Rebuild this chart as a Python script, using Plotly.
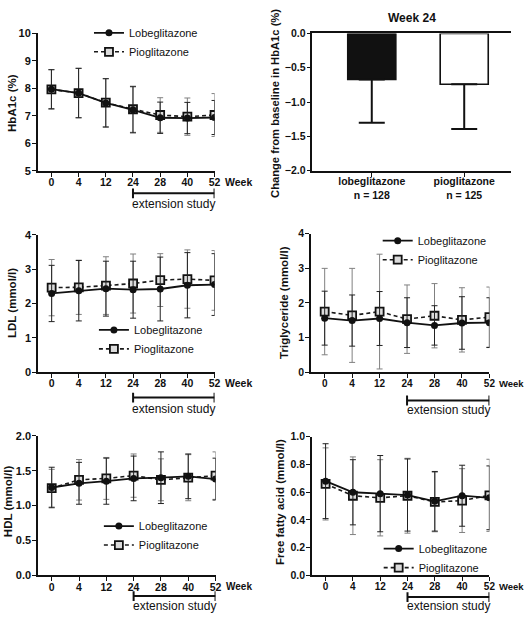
import plotly.graph_objects as go

# ---------------- data ----------------
WEEKS = ["0", "4", "12", "24", "28", "40", "52"]
EXTENSION = ("24", "52")
SERIES = ["Lobeglitazone", "Pioglitazone"]

HBA1C_LOBE = [7.97, 7.83, 7.47, 7.22, 6.93, 6.92, 6.94]
HBA1C_LOBE_SD = [0.71, 0.90, 0.88, 0.84, 0.57, 0.57, 0.62]
HBA1C_PIO = [7.96, 7.83, 7.48, 7.24, 7.03, 6.97, 7.03]
HBA1C_PIO_SD = [0.72, 0.90, 0.88, 0.84, 0.63, 0.68, 0.78]

LDL_LOBE = [2.29, 2.37, 2.43, 2.40, 2.42, 2.53, 2.55]
LDL_LOBE_SD = [0.82, 0.88, 0.80, 0.83, 0.93, 0.95, 0.90]
LDL_PIO = [2.46, 2.47, 2.52, 2.58, 2.68, 2.71, 2.67]
LDL_PIO_SD = [0.82, 0.79, 0.84, 0.86, 0.77, 0.85, 0.87]

TG_LOBE = [1.56, 1.49, 1.55, 1.43, 1.35, 1.42, 1.43]
TG_LOBE_SD = [0.78, 0.74, 0.78, 0.72, 0.57, 0.76, 0.72]
TG_PIO = [1.75, 1.64, 1.75, 1.53, 1.63, 1.51, 1.59]
TG_PIO_SD = [1.25, 1.36, 1.66, 0.99, 0.93, 0.93, 0.87]

HDL_LOBE = [1.26, 1.32, 1.35, 1.39, 1.40, 1.42, 1.38]
HDL_LOBE_SD = [0.29, 0.30, 0.33, 0.32, 0.37, 0.32, 0.30]
HDL_PIO = [1.25, 1.37, 1.39, 1.43, 1.37, 1.40, 1.43]
HDL_PIO_SD = [0.27, 0.29, 0.30, 0.31, 0.30, 0.33, 0.34]

FFA_LOBE = [0.68, 0.60, 0.59, 0.58, 0.535, 0.575, 0.56]
FFA_LOBE_SD = [0.27, 0.235, 0.275, 0.26, 0.215, 0.22, 0.23]
FFA_PIO = [0.66, 0.575, 0.56, 0.575, 0.53, 0.54, 0.578]
FFA_PIO_SD = [0.26, 0.28, 0.275, 0.27, 0.215, 0.23, 0.26]

BAR_GROUPS = ["lobeglitazone", "pioglitazone"]
BAR_N = [128, 125]
BAR_CHANGE = [-0.67, -0.74]
BAR_SD = [0.63, 0.65]

# ---------------- layout helpers ----------------
W, H = 532, 620
FONT = "Liberation Sans, Arial, sans-serif"


def px_x(v):
    return v / W


def px_y(v):
    return 1 - v / H


def ref(prefix, n):
    return prefix if n == 1 else f"{prefix}{n}"


fig = go.Figure()

PANELS = [
    dict(n=1, title="HbA1c (%)", data=(HBA1C_LOBE, HBA1C_LOBE_SD, HBA1C_PIO, HBA1C_PIO_SD),
         yr=(5, 10), dtick=1, fmt="d", xd=(38.25, 217), yd=(28, 168), leg="legend",
         lx=135, ly=37, tx=12, ty=99, br=23, bt=34, tf=10.5, wf=10.5),
    dict(n=3, title="LDL (mmol/l)", data=(LDL_LOBE, LDL_LOBE_SD, LDL_PIO, LDL_PIO_SD),
         yr=(0, 4), dtick=1, fmt="d", xd=(38.5, 217), yd=(233.3, 373.3), leg="legend2",
         lx=140, ly=340, tx=12, ty=303, br=26, bt=38, tf=10.5, wf=10.5),
    dict(n=4, title="Triglyceride (mmol/l)", data=(TG_LOBE, TG_LOBE_SD, TG_PIO, TG_PIO_SD),
         yr=(0, 4), dtick=1, fmt="d", xd=(314.5, 495), yd=(232.3, 373.3), leg="legend3",
         lx=427, ly=249, tx=287, ty=302, br=29, bt=39, tf=10, wf=9.5),
    dict(n=5, title="HDL (mmol/l)", data=(HDL_LOBE, HDL_LOBE_SD, HDL_PIO, HDL_PIO_SD),
         yr=(0, 2), dtick=0.5, fmt=".1f", xd=(38.5, 218), yd=(438.3, 580.7), leg="legend4",
         lx=145, ly=540, tx=8, ty=505, br=21, bt=31, tf=10.5, wf=10),
    dict(n=6, title="Free fatty acid (mmol/l)", data=(FFA_LOBE, FFA_LOBE_SD, FFA_PIO, FFA_PIO_SD),
         yr=(0, 1), dtick=0.2, fmt=".1f", xd=(315.5, 495), yd=(439.3, 580.7), leg="legend5",
         lx=428, ly=563, tx=283, ty=506, br=22, bt=31, tf=10, wf=9.5),
]

annotations = []
shapes = []
layout_axes = {}
legends = {}

for p in PANELS:
    n = p["n"]
    lobe, lobe_sd, pio, pio_sd = p["data"]
    xa, ya = ref("x", n), ref("y", n)
    fig.add_trace(go.Scatter(
        x=WEEKS, y=pio, name=SERIES[1], xaxis=xa, yaxis=ya, legend=p["leg"], legendrank=2,
        mode="lines+markers",
        line=dict(color="#1a1a1a", width=1.6, dash="4px,3px"),
        marker=dict(symbol="square", size=8, color="#dcdcdc", line=dict(color="#111", width=1.8)),
        error_y=dict(type="data", array=pio_sd, color="#808080", thickness=1, width=3),
    ))
    fig.add_trace(go.Scatter(
        x=WEEKS, y=lobe, name=SERIES[0], xaxis=xa, yaxis=ya, legend=p["leg"], legendrank=1,
        mode="lines+markers",
        line=dict(color="#111", width=1.8),
        marker=dict(symbol="circle", size=7, color="#111"),
        error_y=dict(type="data", array=lobe_sd, color="#222", thickness=1, width=3),
    ))
    xkey = "xaxis" if n == 1 else f"xaxis{n}"
    ykey = "yaxis" if n == 1 else f"yaxis{n}"
    layout_axes[xkey] = dict(
        domain=[px_x(p["xd"][0]), px_x(p["xd"][1])], anchor=ya, type="category",
        categoryorder="array", categoryarray=WEEKS, range=[-0.5, 6],
        showline=True, linecolor="#111", linewidth=1.6, ticks="outside", ticklen=4,
        tickwidth=1.4, tickcolor="#111", showgrid=False, zeroline=False,
        ticklabelstandoff=-3,
        tickfont=dict(family=FONT, size=p["tf"], color="#111", weight="bold"),
    )
    layout_axes[ykey] = dict(
        domain=[px_y(p["yd"][1]), px_y(p["yd"][0])], anchor=xa, range=list(p["yr"]),
        dtick=p["dtick"], tick0=p["yr"][0], tickformat=p["fmt"],
        showline=True, linecolor="#111", linewidth=1.6, ticks="outside", ticklen=4,
        tickwidth=1.4, tickcolor="#111", showgrid=False, zeroline=False,
        ticklabelstandoff=-1,
        tickfont=dict(family=FONT, size=p["tf"] + 0.5, color="#111", weight="bold"),
    )
    legends[p["leg"]] = dict(
        x=px_x(p["lx"] - 45), y=px_y(p["ly"]), xanchor="left", yanchor="middle",
        bgcolor="rgba(0,0,0,0)", borderwidth=0, itemwidth=30, tracegroupgap=0,
        font=dict(family=FONT, size=11, color="#111"), traceorder="normal",
    )
    annotations.append(dict(
        text=p["title"], xref="paper", yref="paper", x=px_x(p["tx"]), y=px_y(p["ty"]),
        textangle=-90, showarrow=False, xanchor="center", yanchor="middle",
        font=dict(family=FONT, size=11.5, color="#111", weight="bold"),
    ))
    annotations.append(dict(
        text="Week", xref=f"{xa} domain", yref=f"{ya} domain", x=1, y=0,
        xanchor="left", yanchor="middle", xshift=8, yshift=-11, showarrow=False,
        font=dict(family=FONT, size=p["wf"], color="#111", weight="bold"),
    ))
    i0, i1 = WEEKS.index(EXTENSION[0]), WEEKS.index(EXTENSION[1])
    ybot = p["yd"][1]
    yb = px_y(ybot + p["br"])
    cap = 5 / H
    shapes.append(dict(type="line", xref=xa, yref="paper", x0=i0, x1=i1, y0=yb, y1=yb,
                       line=dict(color="#111", width=2)))
    for ii in (i0, i1):
        shapes.append(dict(type="line", xref=xa, yref="paper", x0=ii, x1=ii,
                           y0=yb - cap, y1=yb + cap, line=dict(color="#111", width=2)))
    annotations.append(dict(
        text="extension study", xref=xa, yref="paper", x=(i0 + i1) / 2,
        y=px_y(ybot + p["bt"]), xanchor="center", yanchor="middle", showarrow=False,
        font=dict(family=FONT, size=12, color="#111"),
    ))

# ---------------- bar panel (Week 24) ----------------
fig.add_trace(go.Bar(
    x=BAR_GROUPS, y=BAR_CHANGE, xaxis="x2", yaxis="y2", showlegend=False, width=0.52,
    marker=dict(color=["#111111", "#ffffff"], line=dict(color="#111", width=1.6)),
    error_y=dict(type="data", symmetric=False, array=[0, 0], arrayminus=BAR_SD,
                 color="#111", thickness=2, width=13),
))
layout_axes["xaxis2"] = dict(
    domain=[px_x(316), px_x(517)], anchor="y2", type="category",
    categoryorder="array", categoryarray=BAR_GROUPS, range=[-0.642, 1.508],
    tickvals=BAR_GROUPS, ticktext=[f"{g}<br>n = {k}" for g, k in zip(BAR_GROUPS, BAR_N)],
    showline=True, mirror=True, linecolor="#111", linewidth=1.6, ticks="outside",
    ticklen=4, tickwidth=1.4, tickcolor="#111", showgrid=False, zeroline=False,
    ticklabelstandoff=-4,
    tickfont=dict(family=FONT, size=10.5, color="#111", weight="bold"),
)
layout_axes["yaxis2"] = dict(
    domain=[px_y(168), px_y(28)], anchor="x2", range=[-2, 0], dtick=0.5, tick0=-2,
    tickformat=".1f", showline=True, linecolor="#111", linewidth=1.6, ticks="outside",
    ticklen=4, tickwidth=1.4, tickcolor="#111", showgrid=False, zeroline=False,
    ticklabelstandoff=-1,
    tickfont=dict(family=FONT, size=10.5, color="#111", weight="bold"),
)
annotations.append(dict(
    text="Week 24", xref="x2 domain", yref="paper", x=0.5, y=px_y(12),
    xanchor="center", yanchor="middle", showarrow=False,
    font=dict(family=FONT, size=12, color="#111", weight="bold"),
))
annotations.append(dict(
    text="Change from baseline in HbA1c (%)", xref="paper", yref="paper",
    x=px_x(278), y=px_y(99), textangle=-90, showarrow=False,
    xanchor="center", yanchor="middle",
    font=dict(family=FONT, size=11.2, color="#111", weight="bold"),
))

fig.update_layout(
    width=W, height=H, margin=dict(l=0, r=0, t=0, b=0),
    paper_bgcolor="white", plot_bgcolor="white",
    font=dict(family=FONT, color="#111"),
    annotations=annotations, shapes=shapes, showlegend=True,
    **layout_axes, **legends,
)

fig.write_html(
    "out.html",
    config={"displayModeBar": False},
    post_script="document.body.style.margin='0';document.body.style.overflow='hidden';",
)
